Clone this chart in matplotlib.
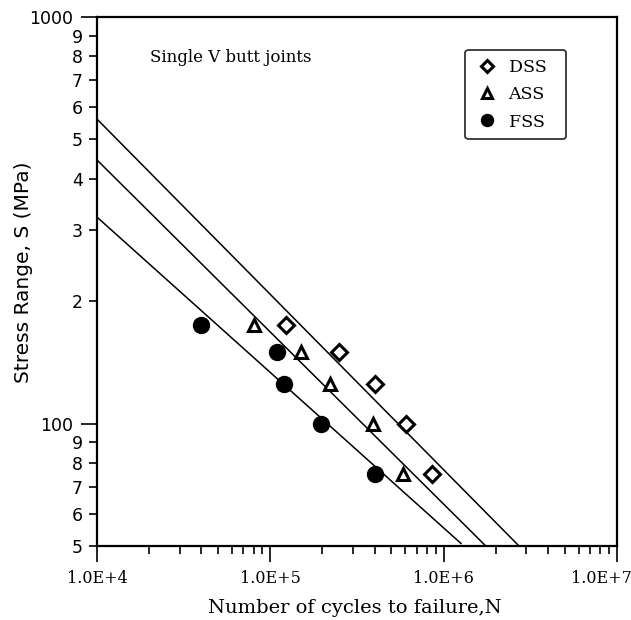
import numpy as np
import matplotlib
matplotlib.use('Agg')
import matplotlib.pyplot as plt
from matplotlib.ticker import FixedLocator, NullFormatter, FixedFormatter
from matplotlib.transforms import ScaledTranslation

# Fatigue data, single V butt joints (cycles, stress range MPa)
dss_N = [1.23e5, 2.5e5, 4.0e5, 6.1e5, 8.6e5]
dss_S = [175, 150, 125, 100, 75]
ass_N = [8.0e4, 1.5e5, 2.2e5, 3.9e5, 5.8e5]
ass_S = [175, 150, 125, 100, 75]
fss_N = [4.0e4, 1.09e5, 1.2e5, 1.95e5, 4.0e5]
fss_S = [175, 150, 125, 100, 75]

# S-N fit lines: stress at N = 1e4 and the N where the line reaches its end
line_names = ['DSS', 'ASS', 'FSS']
line_S0 = [561, 445, 322]
line_Nend = [2.72e6, 1.75e6, 1.26e6]
line_Send = [50, 50, 50.7]

fig = plt.figure(figsize=(6.31, 6.2), dpi=100)
ax = fig.add_axes([0.1537, 0.1194, 0.8241, 0.8532])

# fitted lines
for s0, ne, se in zip(line_S0, line_Nend, line_Send):
    ax.plot([1e4, ne], [s0, se], color='black', lw=1.1)

# data points
ax.plot(dss_N, dss_S, linestyle='none', marker='D', markersize=8.5,
        markerfacecolor='white', markeredgecolor='black', markeredgewidth=2.2, label='DSS  ')
ax.plot(ass_N, ass_S, linestyle='none', marker='^', markersize=9,
        markerfacecolor='white', markeredgecolor='black', markeredgewidth=2.2, label='ASS  ')
ax.plot(fss_N, fss_S, linestyle='none', marker='o', markersize=11.5,
        markerfacecolor='black', markeredgecolor='black', label='FSS  ')

ax.set_xscale('log')
ax.set_yscale('log')
ax.set_xlim(1e4, 1e7)
ax.set_ylim(50, 1000)

# x ticks
ax.xaxis.set_major_locator(FixedLocator([1e4, 1e5, 1e6, 1e7]))
ax.xaxis.set_major_formatter(FixedFormatter(['1.0E+4', '1.0E+5', '1.0E+6', '1.0E+7']))
ax.xaxis.set_minor_formatter(NullFormatter())

# y ticks: every value labelled, leading digit only for minors
y_major = [100, 1000]
y_minor = [50, 60, 70, 80, 90, 200, 300, 400, 500, 600, 700, 800, 900]
y_minor_labels = ['5', '6', '7', '8', '9', '2', '3', '4', '5', '6', '7', '8', '9']
ax.yaxis.set_major_locator(FixedLocator(y_major))
ax.yaxis.set_major_formatter(FixedFormatter(['100', '1000']))
ax.yaxis.set_minor_locator(FixedLocator(y_minor))
ax.yaxis.set_minor_formatter(FixedFormatter(y_minor_labels))

ax.tick_params(axis='both', which='major', direction='out', length=11.5, width=1.2, color='black')
ax.tick_params(axis='both', which='minor', direction='out', length=6, width=1.2, color='black')
ax.tick_params(axis='x', which='major', labelsize=11.5, pad=6)
ax.tick_params(axis='y', which='major', labelsize=12.5, pad=6)
ax.tick_params(axis='y', which='minor', labelsize=12.5, pad=4)
for lab in ax.get_xticklabels():
    lab.set_fontfamily('DejaVu Serif')
for lab in ax.get_yticklabels(which='both'):
    lab.set_fontfamily('DejaVu Sans')

# last x label is pulled left so it stays inside the figure
last = ax.get_xticklabels()[-1]
last.set_transform(last.get_transform() + ScaledTranslation(-0.16, 0, fig.dpi_scale_trans))

for sp in ax.spines.values():
    sp.set_linewidth(1.6)
    sp.set_color('black')

ax.set_xlabel('Number of cycles to failure,N', fontfamily='DejaVu Serif', fontsize=14)
ax.set_ylabel('Stress Range, S (MPa)', fontfamily='DejaVu Sans', fontsize=14.5)
ax.xaxis.set_label_coords(0.496, -0.100)
ax.yaxis.set_label_coords(-0.123, 0.518)

ax.text(0.102, 0.924, 'Single V butt joints', transform=ax.transAxes,
        fontfamily='DejaVu Serif', fontsize=12, va='center', ha='left')

leg = ax.legend(loc='upper right', bbox_to_anchor=(0.902, 0.9376), borderaxespad=0,
                frameon=True, fancybox=True,
                prop={'family': 'DejaVu Serif', 'size': 12.5}, handlelength=1.5,
                handletextpad=0.5, borderpad=0.5, labelspacing=0.6, markerscale=0.75)
leg.get_frame().set_edgecolor('black')
leg.get_frame().set_linewidth(1.3)

fig.savefig('out.png', dpi=100)
